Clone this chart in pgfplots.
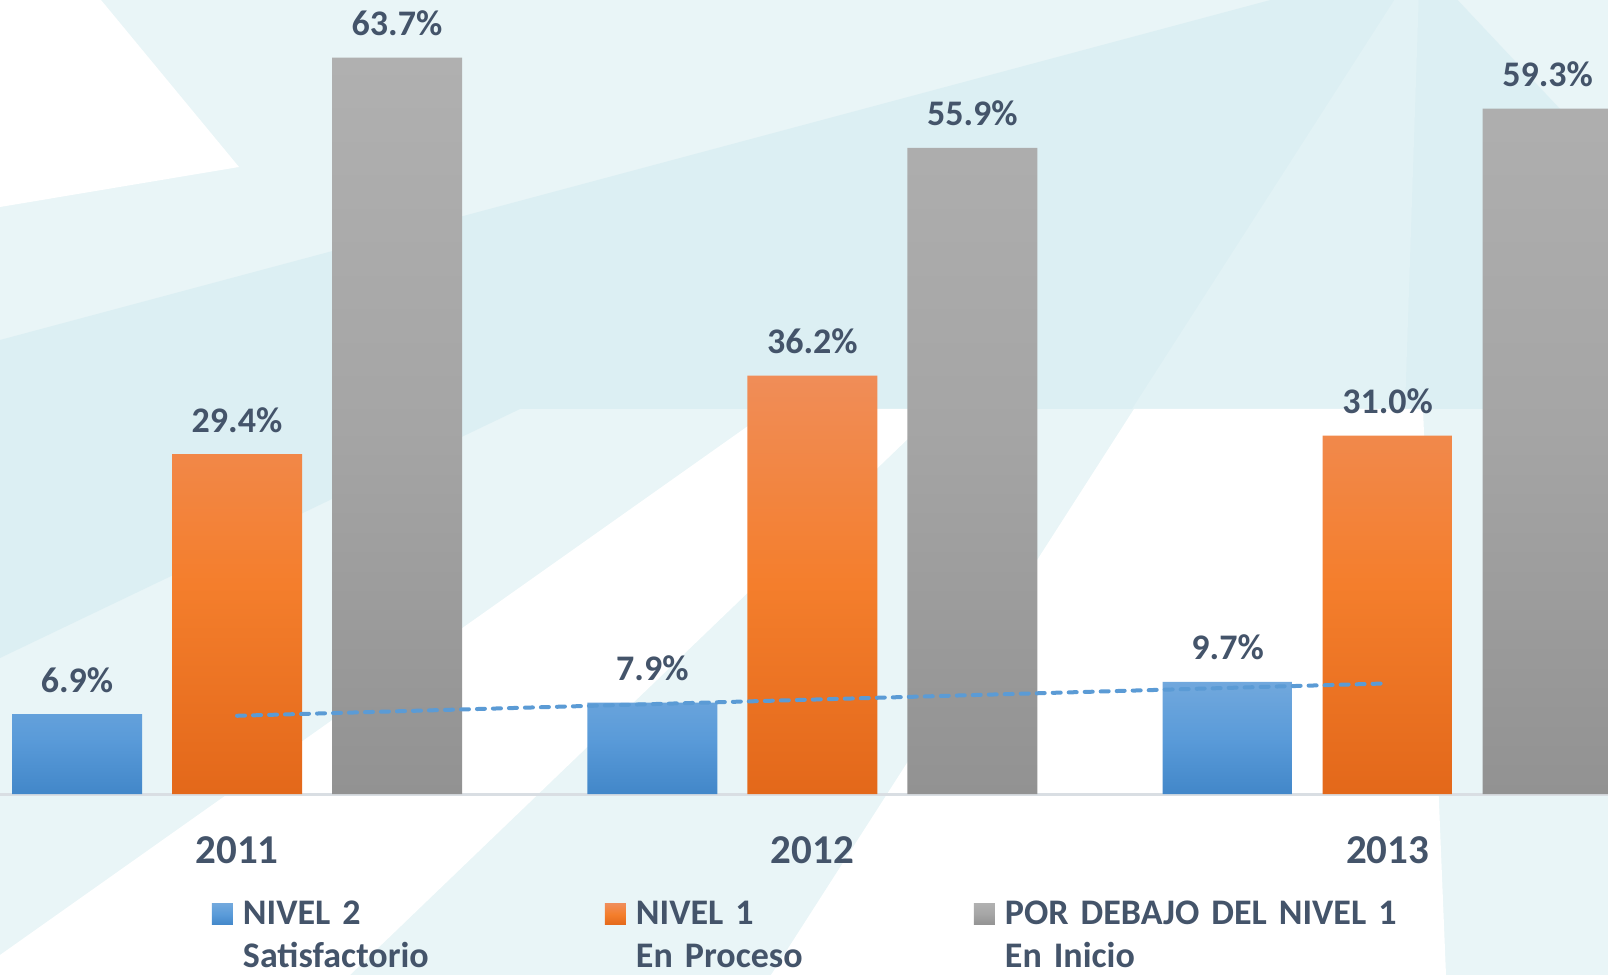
\documentclass[border=0pt]{standalone}
\usepackage{pgfplots}
\pgfplotsset{compat=1.18}
\usepackage{fontspec}
\setmainfont{Carlito}
\definecolor{txt}{HTML}{44546A}
\definecolor{bgL}{HTML}{E9F5F7}
\definecolor{bgD}{HTML}{DCEFF3}
\definecolor{bgM}{HTML}{E2F2F5}
\definecolor{axisline}{HTML}{D9DEE3}
\definecolor{blueTop}{HTML}{71A8DD}
\definecolor{blueMid}{HTML}{5A9BD9}
\definecolor{blueBot}{HTML}{4287C9}
\definecolor{orangeTop}{HTML}{F08D58}
\definecolor{orangeMid}{HTML}{F47E2C}
\definecolor{orangeBot}{HTML}{E3681A}
\definecolor{grayTop}{HTML}{B0B0B0}
\definecolor{grayMid}{HTML}{A5A5A5}
\definecolor{grayBot}{HTML}{929292}
\definecolor{trend}{HTML}{5B9BD5}
\begin{document}
\begin{tikzpicture}
% decorative background (full-size pixel coordinates, y downwards)
\begin{scope}
\clip (0,-90.5pt) rectangle (804pt,397pt);
\begin{scope}[shift={(0,397pt)}, x=0.5pt, y=-0.5pt]
  \fill[bgL] (0,0) rectangle (1608,975);
  \fill[bgD] (0,340) -- (1420,-40) -- (1608,160) -- (1608,409) -- (520,409) -- (0,658) -- cycle;
  \fill[bgM] (1420,-40) -- (1132,409) -- (1405,409) -- cycle;
  \fill[white] (0,0) -- (101,0) -- (239,167) -- (0,207) -- cycle;
  \fill[white] (772,409) -- (939,409) -- (350,975) -- (0,975) -- (0,955) -- cycle;
  \fill[white] (1134,409) -- (1423,409) -- (1446,975) -- (771,975) -- cycle;
\end{scope}
\end{scope}
\begin{axis}[
  at={(0,0)}, anchor=south west,
  scale only axis, width=804pt, height=397pt,
  xmin=-0.412, xmax=2.383, ymin=0, ymax=68.69,
  axis x line*=bottom, axis y line=none,
  x axis line style={draw=axisline, line width=1.5pt},
  xtick={0,1,2}, xticklabels={2011,2012,2013},
  major tick length=0pt,
  xticklabel style={font=\bfseries\fontsize{20.5}{24}\selectfont, text=txt, anchor=base, yshift=-34.5pt},
  ytick=\empty,
  bar width=65pt,
  barlabels/.style={nodes near coords, point meta=explicit symbolic,
     every node near coord/.append style={font=\bfseries\fontsize{18}{21}\selectfont, text=txt, anchor=base, yshift=11pt, xshift=#1}},
  legend columns=3,
  legend cell align=left,
  legend style={at={(0.13184,-0.13224)}, anchor=north west, draw=none, fill=none,
     inner sep=0pt, outer sep=0pt, row sep=4.5pt,
     nodes={inner sep=0pt, text width=200pt, align=left, text height=13pt, text depth=4pt,
            font=\bfseries\fontsize{18}{21}\selectfont, text=txt},
     cells={anchor=base west},
     /tikz/column 1/.style={column sep=5pt},
     /tikz/column 2/.style={column sep=-19pt},
     /tikz/column 3/.style={column sep=5pt},
     /tikz/column 4/.style={column sep=-31pt},
     /tikz/column 5/.style={column sep=5pt}},
  legend image code/.code={\fill[#1] (0pt,0pt) rectangle (10.5pt,10.5pt);},
]
\addplot[ybar, bar shift=-80pt, draw=none, top color=blueTop, bottom color=blueBot, middle color=blueMid, barlabels=-80pt]
  coordinates {(0,6.9)[6.9\%] (1,7.9)[7.9\%] (2,9.7)[9.7\%]};
\addplot[ybar, bar shift=0pt, draw=none, top color=orangeTop, bottom color=orangeBot, middle color=orangeMid, barlabels=0pt]
  coordinates {(0,29.4)[29.4\%] (1,36.2)[36.2\%] (2,31.0)[31.0\%]};
\addplot[ybar, bar shift=80pt, draw=none, top color=grayTop, bottom color=grayBot, middle color=grayMid, barlabels=80pt]
  coordinates {(0,63.7)[63.7\%] (1,55.9)[55.9\%] (2,59.3)[59.3\%]};
\addlegendimage{empty legend}
\addlegendimage{empty legend}
\addlegendimage{empty legend}
\addplot[forget plot, trend, line width=2pt, dash pattern=on 4pt off 4pt, line cap=round]
  coordinates {(0,6.767) (2,9.567)};
\legend{NIVEL 2, NIVEL 1, POR DEBAJO DEL NIVEL 1, Satisfactorio, En Proceso, En Inicio}
\end{axis}
\pgfresetboundingbox
\path[use as bounding box] (0,-90.5pt) rectangle (804pt,397pt);
\end{tikzpicture}
\end{document}
